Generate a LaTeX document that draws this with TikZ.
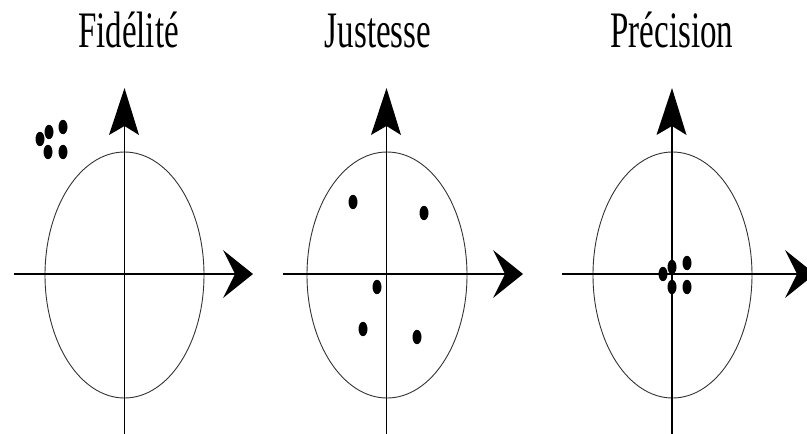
\documentclass[tikz,border=0pt]{standalone}
\usepackage{fontspec}
\usepackage{graphicx}
\setmainfont{Liberation Serif}
\newcommand{\tallword}[1]{\scalebox{1}[1.55]{\fontsize{33}{36}\selectfont #1}}
\begin{document}
\begin{tikzpicture}[x=10pt,y=10pt]
        \tikzstyle{every node}+=[inner sep=0pt]
        \useasboundingbox (0,0) rectangle (80.7,-43.4);
        \clip (0,0) rectangle (80.7,-43.4);
        % Fidelite
        \draw (12.85,-4.7) node [anchor=base] (fid) {\tallword{Fidélité}};
        \draw [black!80, line width=0.9pt] (12.45,-27.5) ellipse (7.95 and 12.3);
        \draw [black, line width=1.9pt] (1.4,-27.4) -- (23.8,-27.4);
        \fill [black] (25.3,-27.4) -- (22.3,-25.0) -- (23.5,-27.4) -- (22.3,-29.8) -- cycle;
        \draw [black, line width=1.9pt] (12.45,-43.4) -- (12.45,-12.0);
        \fill [black] (12.45,-8.8) -- (10.9,-13.5) -- (12.45,-12.6) -- (13.9,-13.5) -- cycle;
        \fill [black] (4.0,-13.9) ellipse (0.45 and 0.72);
        \fill [black] (4.9,-13.2) ellipse (0.45 and 0.72);
        \fill [black] (6.3,-12.7) ellipse (0.45 and 0.72);
        \fill [black] (4.8,-15.2) ellipse (0.45 and 0.72);
        \fill [black] (6.3,-15.2) ellipse (0.45 and 0.72);
        % Justesse
        \draw (37.8,-4.7) node [anchor=base] (jus) {\tallword{Justesse}};
        \draw [black!80, line width=0.9pt] (38.7,-27.5) ellipse (8.0 and 12.3);
        \draw [black, line width=1.9pt] (28.3,-27.4) -- (50.8,-27.4);
        \fill [black] (52.3,-27.4) -- (49.3,-25.0) -- (50.5,-27.4) -- (49.3,-29.8) -- cycle;
        \draw [black, line width=1.9pt] (38.65,-43.4) -- (38.65,-12.0);
        \fill [black] (38.65,-8.8) -- (37.1,-13.5) -- (38.65,-12.6) -- (40.1,-13.5) -- cycle;
        \fill [black] (35.3,-20.2) ellipse (0.45 and 0.72);
        \fill [black] (42.4,-21.3) ellipse (0.45 and 0.72);
        \fill [black] (37.7,-28.7) ellipse (0.45 and 0.72);
        \fill [black] (36.3,-32.9) ellipse (0.45 and 0.72);
        \fill [black] (41.7,-33.7) ellipse (0.45 and 0.72);
        % Precision
        \draw (67.2,-4.7) node [anchor=base] (pre) {\tallword{Précision}};
        \draw [black!80, line width=0.9pt] (67.25,-27.5) ellipse (7.95 and 12.3);
        \draw [black, line width=1.9pt] (56.2,-27.4) -- (80.0,-27.4);
        \fill [black] (81.5,-27.4) -- (78.5,-25.0) -- (79.7,-27.4) -- (78.5,-29.8) -- cycle;
        \draw [black, line width=1.9pt] (67.2,-43.4) -- (67.2,-12.0);
        \fill [black] (67.2,-8.8) -- (65.65,-13.5) -- (67.2,-12.6) -- (68.65,-13.5) -- cycle;
        \fill [black] (66.3,-27.4) ellipse (0.45 and 0.72);
        \fill [black] (67.2,-26.7) ellipse (0.45 and 0.72);
        \fill [black] (68.7,-26.3) ellipse (0.45 and 0.72);
        \fill [black] (67.2,-28.7) ellipse (0.45 and 0.72);
        \fill [black] (68.7,-28.7) ellipse (0.45 and 0.72);
\end{tikzpicture}
\end{document}
